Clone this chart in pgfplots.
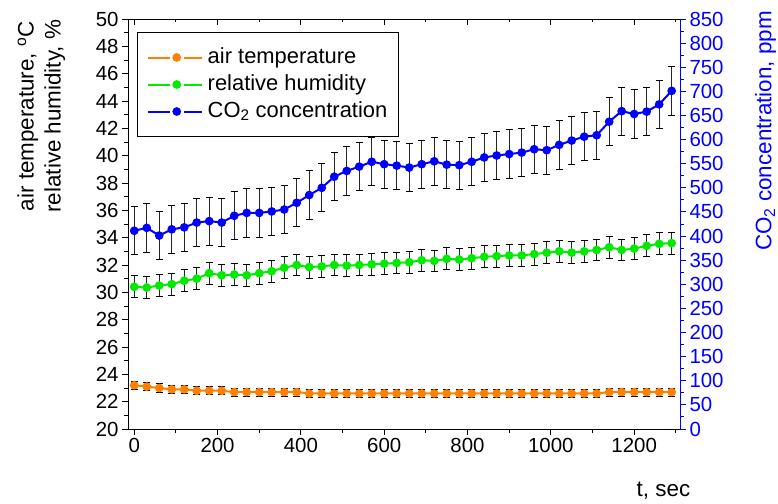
\documentclass[border=0pt]{standalone}
\usepackage{pgfplots}
\pgfplotsset{compat=1.18}
\usepackage{pgfplotstable}
\usepackage{fontspec}
\setmainfont{Liberation Sans}

\definecolor{tempc}{RGB}{255,128,0}
\definecolor{rhc}{RGB}{0,235,0}
\definecolor{coc}{RGB}{0,0,255}

% time (s), air temperature (C), relative humidity (%), CO2 (ppm), with their errors
\pgfplotstableread{
t     T     dT    RH     dRH   CO2   dCO2
0     23.2  0.3   30.40  0.8   411   50
30    23.1  0.3   30.35  0.8   417   50
60    23.0  0.3   30.50  0.8   401   50
90    22.9  0.3   30.60  0.8   414   50
120   22.9  0.3   30.85  0.8   418   50
150   22.8  0.3   31.00  0.8   428   50
180   22.8  0.3   31.40  0.8   431   50
210   22.8  0.3   31.25  0.8   428   50
240   22.7  0.3   31.30  0.8   442   50
270   22.7  0.3   31.25  0.8   448   50
300   22.7  0.3   31.40  0.8   448   50
330   22.7  0.3   31.55  0.8   451   50
360   22.7  0.3   31.80  0.8   455   50
390   22.7  0.3   32.00  0.8   469   50
420   22.6  0.3   31.85  0.8   485   50
450   22.6  0.3   31.90  0.8   500   50
480   22.6  0.3   32.00  0.8   523   50
510   22.6  0.3   31.95  0.8   535   50
540   22.6  0.3   32.00  0.8   544   50
570   22.6  0.3   32.05  0.8   554   50
600   22.6  0.3   32.10  0.8   549   50
630   22.6  0.3   32.15  0.8   546   50
660   22.6  0.3   32.20  0.8   542   50
690   22.6  0.3   32.35  0.8   549   50
720   22.6  0.3   32.30  0.8   555   50
750   22.6  0.3   32.45  0.8   548   50
780   22.6  0.3   32.40  0.8   547   50
810   22.6  0.3   32.50  0.8   554   50
840   22.6  0.3   32.60  0.8   563   50
870   22.6  0.3   32.65  0.8   567   50
900   22.6  0.3   32.70  0.8   570   50
930   22.6  0.3   32.70  0.8   573   50
960   22.6  0.3   32.80  0.8   580   50
990   22.6  0.3   32.90  0.8   578   50
1020  22.6  0.3   33.00  0.8   589   50
1050  22.6  0.3   32.90  0.8   598   50
1080  22.6  0.3   33.00  0.8   606   50
1110  22.6  0.3   33.10  0.8   609   50
1140  22.7  0.3   33.30  0.8   637   50
1170  22.7  0.3   33.10  0.8   659   50
1200  22.7  0.3   33.20  0.8   653   50
1230  22.7  0.3   33.40  0.8   658   50
1260  22.7  0.3   33.55  0.8   673   50
1290  22.7  0.3   33.60  0.8   701   50
}\datatable

\pgfplotsset{
  common/.style={
    scale only axis, width=552bp, height=410bp,
    xmin=-15, xmax=1310,
    /pgf/number format/assume math mode=true,
    /pgf/number format/1000 sep={},
    every tick label/.append style={font=\fontsize{20.5}{24}\selectfont},
    label style={font=\fontsize{22.5}{27}\selectfont},
    major tick length=6bp, minor tick length=3.5bp,
  },
  series/.style={
    color=#1, line width=2bp, mark=*, mark size=3.3bp,
    mark options={solid, fill=#1, draw=#1},
  },
  bars/.style={
    error bars/.cd, y dir=both, y explicit,
    error bar style={line width=0.9bp, black!85, solid},
    error mark options={rotate=90, mark size=3.5bp, black, line width=0.9bp, solid},
  },
}

\begin{document}
\begin{tikzpicture}
% left axis: temperature and humidity
\begin{axis}[
  common,
  ymin=20, ymax=50,
  axis x line*=bottom, axis y line*=left,
  xtick={0,200,...,1200}, minor xtick={100,300,...,1300},
  ytick={20,22,...,50}, minor ytick={21,23,...,49},
  tick align=outside,
  tick style={black, line width=0.9bp},
  axis line style={black, line width=0.9bp},
  xlabel={t, sec},
  xlabel style={at={(rel axis cs:0.97,0)}, anchor=north, yshift=-53bp, inner sep=0pt},
  ylabel={air temperature, \textsuperscript{o}C\\relative humidity, \%},
  ylabel style={align=center, at={(rel axis cs:-0.157,0.763)}, anchor=center},
]
\coordinate (SW) at (rel axis cs:0,0);
\addplot[series=tempc, bars] table[x=t, y=T, y error=dT] {\datatable};
\addplot[series=rhc, bars] table[x=t, y=RH, y error=dRH] {\datatable};
\end{axis}

% top frame line with inward ticks
\begin{axis}[
  common,
  ymin=20, ymax=50,
  axis x line*=top, axis y line=none,
  xtick={0,200,...,1200}, minor xtick={100,300,...,1300},
  xticklabels={},
  tick align=inside,
  tick style={black, line width=0.9bp},
  axis line style={black, line width=0.9bp},
]
\end{axis}

% right axis: CO2
\begin{axis}[
  common,
  ymin=0, ymax=850,
  axis x line=none, axis y line*=right,
  ytick={0,50,...,850}, minor ytick={25,75,...,825},
  tick align=outside,
  axis line style={coc, line width=0.9bp},
  tick style={coc, line width=0.9bp},
  yticklabel style={text=coc},
  ylabel={CO\textsubscript{2} concentration, ppm},
  ylabel style={text=coc, at={(rel axis cs:1.155,0.727)}, anchor=center},
  legend cell align=left,
  legend image code/.code={
    \path (0bp,0bp) -- (4bp,0bp);
    \draw[mark=none] (3.5bp,0bp) -- (21.5bp,0bp);
    \draw[mark=none] (36bp,0bp) -- (54bp,0bp);
    \draw plot coordinates {(28.5bp,0bp)};
  },
  legend style={
    at={(rel axis cs:0.016,0.968)}, anchor=north west,
    draw=black, line width=0.8bp,
    font=\fontsize{22}{26}\selectfont,
    inner xsep=10bp, inner ysep=13bp,
    row sep=3bp, column sep=3bp,
    nodes={inner sep=1.5bp, text height=16bp, text depth=5bp},
  },
]
\addlegendimage{series=tempc}
\addlegendentry{air temperature}
\addlegendimage{series=rhc}
\addlegendentry{relative humidity}
\addplot[series=coc, bars] table[x=t, y=CO2, y error=dCO2] {\datatable};
\addlegendentry{CO\textsubscript{2} concentration}
\end{axis}

\pgfresetboundingbox
\path (SW) ++(-128bp,-75bp) rectangle ++(778bp,504bp);
\end{tikzpicture}
\end{document}
